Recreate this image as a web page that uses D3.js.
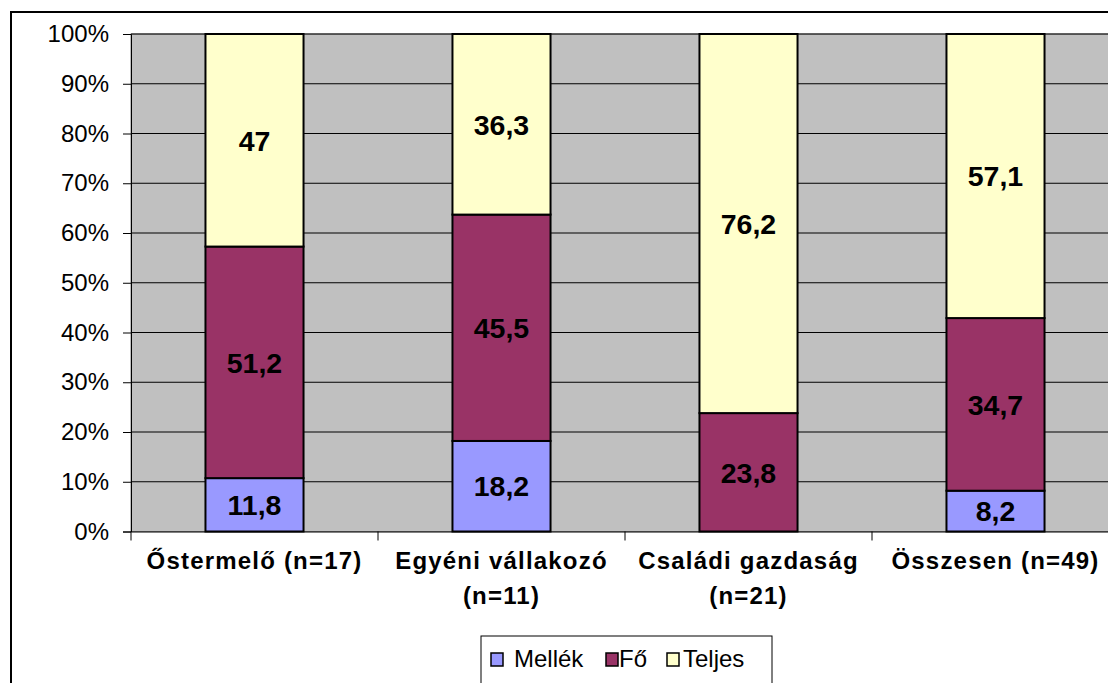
<!DOCTYPE html>
<html>
<head>
<meta charset="utf-8">
<script src="https://cdn.jsdelivr.net/npm/d3@7"></script>
<style>
  body { margin: 0; background: #fff; }
  svg { display: block; font-family: Arial, "Liberation Sans", sans-serif; }
</style>
</head>
<body>
<script>
// 100% stacked columns: Mellék / Fő / Teljes

var categories = ["Őstermelő (n=17)", "Egyéni vállakozó (n=11)", "Családi gazdaság (n=21)", "Összesen (n=49)"];
// wrapped category labels as drawn under the axis
var categoryLines = [["Őstermelő (n=17)"], ["Egyéni vállakozó", "(n=11)"], ["Családi gazdaság", "(n=21)"], ["Összesen (n=49)"]];
var series = ["Mellék", "Fő", "Teljes"];
var mellek = [11.8, 18.2, 0, 8.2];
var fo = [51.2, 45.5, 23.8, 34.7];
var teljes = [47, 36.3, 76.2, 57.1];
var yTicks = [0, 0.1, 0.2, 0.3, 0.4, 0.5, 0.6, 0.7, 0.8, 0.9, 1];

var colors = {"Mellék": "#9999FF", "Fő": "#993366", "Teljes": "#FFFFCC"};

var width = 1108, height = 683;
var plot = {left: 131, top: 34, right: 1119, bottom: 531.5};

var data = categories.map(function(c, i) {
    return {cat: c, "Mellék": mellek[i], "Fő": fo[i], "Teljes": teljes[i]};
});

var stack = d3.stack().keys(series).offset(d3.stackOffsetExpand);
var stacked = stack(data);

var x = d3.scaleBand()
    .domain(categories)
    .range([plot.left, plot.right])
    .paddingInner(0.603)
    .paddingOuter(0.3015);

var xTick = d3.scaleBand()
    .domain(categories)
    .range([plot.left, plot.right]);

var y = d3.scaleLinear().domain([0, 1]).range([plot.bottom, plot.top]);

var svg = d3.select("body").append("svg")
    .attr("width", width)
    .attr("height", height);

// chart frame
svg.append("rect")
    .attr("x", 11).attr("y", 12)
    .attr("width", width + 20).attr("height", height + 20)
    .attr("fill", "#fff")
    .attr("stroke", "#000")
    .attr("stroke-width", 2);

// plot area
svg.append("rect")
    .attr("x", plot.left).attr("y", plot.top)
    .attr("width", plot.right - plot.left)
    .attr("height", plot.bottom - plot.top)
    .attr("fill", "#C0C0C0")
    .attr("stroke", "#808080")
    .attr("stroke-width", 1);

// gridlines
svg.append("g")
    .selectAll("line")
    .data(yTicks.slice(1))
    .enter().append("line")
    .attr("x1", plot.left).attr("x2", plot.right)
    .attr("y1", function(d) { return y(d); })
    .attr("y2", function(d) { return y(d); })
    .attr("stroke", "#000")
    .attr("stroke-width", 1);

// y axis
var yAxis = d3.axisLeft(y)
    .tickValues(yTicks)
    .tickFormat(d3.format(".0%"))
    .tickSize(8)
    .tickPadding(14);

var gy = svg.append("g")
    .attr("transform", "translate(" + plot.left + ",0)")
    .call(yAxis);
gy.select(".domain").attr("stroke", "#000").attr("stroke-width", 1);
gy.selectAll(".tick line").attr("stroke", "#000");
gy.selectAll(".tick text")
    .attr("font-family", "Arial, 'Liberation Sans', sans-serif")
    .attr("font-size", 24)
    .attr("fill", "#000");

// bars
var layer = svg.append("g")
    .selectAll("g")
    .data(stacked)
    .enter().append("g")
    .attr("fill", function(d) { return colors[d.key]; });

layer.selectAll("rect")
    .data(function(d) { return d.filter(function(p) { return p[1] - p[0] > 0; }); })
    .enter().append("rect")
    .attr("x", function(d) { return x(d.data.cat); })
    .attr("width", x.bandwidth())
    .attr("y", function(d) { return y(d[1]); })
    .attr("height", function(d) { return y(d[0]) - y(d[1]); })
    .attr("stroke", "#000")
    .attr("stroke-width", 2);

// value labels
stacked.forEach(function(s) {
    svg.append("g")
        .selectAll("text")
        .data(s.filter(function(p) { return p[1] - p[0] > 0; }))
        .enter().append("text")
        .attr("x", function(d) { return x(d.data.cat) + x.bandwidth() / 2; })
        .attr("y", function(d) { return y((d[0] + d[1]) / 2); })
        .attr("dy", "0.36em")
        .attr("text-anchor", "middle")
        .attr("font-size", 28.5)
        .attr("font-weight", "bold")
        .attr("fill", "#000")
        .text(function(d) { return String(d.data[s.key]).replace(".", ","); });
});

// x axis
var xAxis = d3.axisBottom(xTick).tickSize(0).tickFormat("");
var gx = svg.append("g")
    .attr("transform", "translate(0," + plot.bottom + ")")
    .call(xAxis);
gx.select(".domain").attr("stroke", "#000").attr("stroke-width", 1);

// category tick marks at band edges
svg.append("g")
    .selectAll("line")
    .data(categories.concat(["end"]))
    .enter().append("line")
    .attr("x1", function(d, i) { return plot.left + i * xTick.step(); })
    .attr("x2", function(d, i) { return plot.left + i * xTick.step(); })
    .attr("y1", plot.bottom)
    .attr("y2", plot.bottom + 9)
    .attr("stroke", "#000");

// category labels
var catText = svg.append("g")
    .selectAll("text")
    .data(categories)
    .enter().append("text")
    .attr("x", function(d) { return xTick(d) + xTick.bandwidth() / 2; })
    .attr("y", 569)
    .attr("text-anchor", "middle")
    .attr("font-size", 24)
    .attr("font-weight", "bold")
    .attr("letter-spacing", 1.2)
    .attr("fill", "#000");

catText.selectAll("tspan")
    .data(function(d, i) { return categoryLines[i]; })
    .enter().append("tspan")
    .attr("x", function() { return d3.select(this.parentNode).attr("x"); })
    .attr("dy", function(d, i) { return i === 0 ? 0 : 35; })
    .text(function(d) { return d; });

// legend
var legend = svg.append("g");
legend.append("rect")
    .attr("x", 481).attr("y", 636)
    .attr("width", 291).attr("height", 80)
    .attr("fill", "#fff")
    .attr("stroke", "#000")
    .attr("stroke-width", 1);

var legendSwatchX = [491, 606, 667];
var legendTextX = [514, 619, 683];
series.forEach(function(s, i) {
    legend.append("rect")
        .attr("x", legendSwatchX[i]).attr("y", 653)
        .attr("width", 12).attr("height", 13)
        .attr("fill", colors[s])
        .attr("stroke", "#000")
        .attr("stroke-width", 1.5);
    legend.append("text")
        .attr("x", legendTextX[i])
        .attr("y", 667)
        .attr("font-size", 24)
        .attr("fill", "#000")
        .text(s);
});
</script>
</body>
</html>
